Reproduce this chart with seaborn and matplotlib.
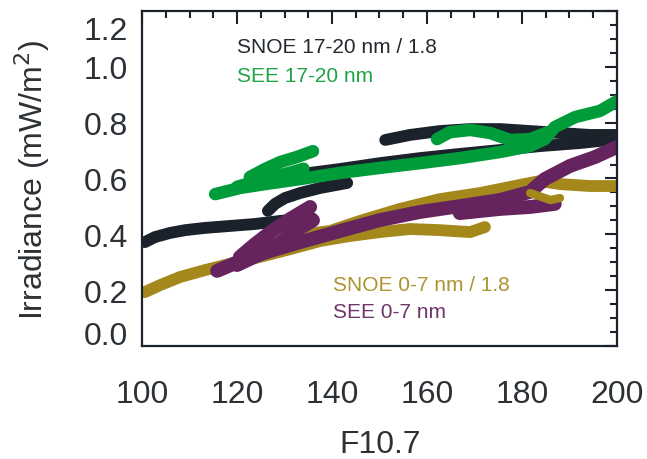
import matplotlib
matplotlib.use("Agg")
import matplotlib.pyplot as plt
import matplotlib.transforms as mtrans
from matplotlib.ticker import MultipleLocator
import seaborn as sns
import pandas as pd

# ---------------- data ----------------
# SNOE 17-20 nm / 1.8  (dark)
snoe1720_seg1_x = [100.6, 102.7, 105.9, 109.1, 113.3, 118.5, 123.8, 129.1, 135.8]
snoe1720_seg1_y = [0.372, 0.390, 0.405, 0.415, 0.423, 0.430, 0.437, 0.448, 0.458]
snoe1720_seg2_x = [126.5, 128.0, 130.1, 133.3, 137.5, 143.2]
snoe1720_seg2_y = [0.484, 0.509, 0.530, 0.548, 0.566, 0.584]
snoe1720_seg3_x = [132.2, 141.7, 150.1, 158.5, 166.9, 175.4, 183.8, 192.2, 200.0]
snoe1720_seg3_y = [0.613, 0.634, 0.655, 0.673, 0.688, 0.702, 0.716, 0.727, 0.741]
snoe1720_seg4_x = [151.2, 156.4, 162.7, 169.1, 175.4, 181.7, 188.0, 194.3, 200.0]
snoe1720_seg4_y = [0.738, 0.756, 0.770, 0.777, 0.777, 0.770, 0.763, 0.756, 0.756]

# SEE 17-20 nm (green)
see1720_seg1_x = [115.4, 120.6, 125.9, 133.3, 141.7, 150.1, 158.5, 166.9, 175.4, 181.7, 184.8,
                  186.9, 191.2, 196.4, 200.0]
see1720_seg1_y = [0.544, 0.566, 0.580, 0.598, 0.620, 0.638, 0.655, 0.673, 0.695, 0.716, 0.741,
                  0.784, 0.820, 0.842, 0.877]
see1720_seg2_x = [122.7, 125.9, 129.1, 132.6, 136.0]
see1720_seg2_y = [0.605, 0.634, 0.659, 0.677, 0.698]
see1720_seg3_x = [120.0, 126.0, 131.0, 134.0]
see1720_seg3_y = [0.570, 0.600, 0.620, 0.635]
see1720_seg4_x = [162.1, 164.8, 169.1, 173.3, 177.5, 181.7, 185.5]
see1720_seg4_y = [0.741, 0.766, 0.774, 0.763, 0.738, 0.741, 0.766]

# SNOE 0-7 nm / 1.8 (gold)
snoe07_seg1_x = [100.6, 103.8, 108.0, 113.3, 118.5, 124.8, 131.2, 137.5, 143.8, 150.1, 156.4,
                 162.7, 169.1, 172.2]
snoe07_seg1_y = [0.193, 0.218, 0.247, 0.272, 0.294, 0.319, 0.347, 0.376, 0.394, 0.408, 0.419,
                 0.415, 0.408, 0.426]
snoe07_seg2_x = [131.2, 139.6, 145.9, 154.3, 162.7, 171.2, 179.6, 183.8, 188.0, 194.3, 200.0]
snoe07_seg2_y = [0.394, 0.412, 0.448, 0.491, 0.526, 0.548, 0.577, 0.591, 0.580, 0.573, 0.573]
snoe07_seg3_x = [181.7, 186.0, 188.0]
snoe07_seg3_y = [0.548, 0.523, 0.530]

# SEE 0-7 nm (purple)
see07_seg1_x = [115.8, 120.6, 126.9, 133.3, 141.7, 150.1, 158.5, 166.9, 175.4, 181.7, 184.8,
                190.1, 195.4, 200.0]
see07_seg1_y = [0.269, 0.304, 0.340, 0.372, 0.412, 0.451, 0.480, 0.501, 0.523, 0.552, 0.598,
                0.645, 0.677, 0.713]
see07_seg2_x = [120.6, 123.8, 127.4, 131.2, 135.4]
see07_seg2_y = [0.319, 0.365, 0.412, 0.455, 0.498]
see07_seg3_x = [120.0, 125.0, 129.0, 133.0, 136.0]
see07_seg3_y = [0.290, 0.330, 0.370, 0.420, 0.450]
see07_seg4_x = [166.9, 175.4, 181.7, 186.9]
see07_seg4_y = [0.476, 0.491, 0.498, 0.509]

xticks = [100, 120, 140, 160, 180, 200]
yticks = [0.0, 0.2, 0.4, 0.6, 0.8, 1.0, 1.2]
xtick_labels = ["100", "120", "140", "160", "180", "200"]
ytick_labels = ["0.0", "0.2", "0.4", "0.6", "0.8", "1.0", "1.2"]

C_DARK = "#1b222b"
C_GREEN = "#009c3a"
C_GOLD = "#a4881c"
C_PURPLE = "#66245e"
C_TEXT = "#2c3136"


def frame(segs):
    rows = []
    for i, (xs, ys) in enumerate(segs):
        for x, y in zip(xs, ys):
            rows.append({"F107": x, "irr": y, "seg": i})
    return pd.DataFrame(rows)


sns.set_theme(style="white")
plt.rcParams["font.family"] = ["Liberation Sans", "DejaVu Sans"]

fig = plt.figure(figsize=(6.47, 4.60), dpi=100)
ax = fig.add_axes([0.2195, 0.2457, 0.7341, 0.7282])

line_kw = dict(estimator=None, sort=False, legend=False, ax=ax,
               solid_capstyle="round", solid_joinstyle="round")

sns.lineplot(data=frame([(snoe1720_seg1_x, snoe1720_seg1_y), (snoe1720_seg2_x, snoe1720_seg2_y),
                         (snoe1720_seg3_x, snoe1720_seg3_y), (snoe1720_seg4_x, snoe1720_seg4_y)]),
             x="F107", y="irr", units="seg", color=C_DARK, lw=8.5, **line_kw)
sns.lineplot(data=frame([(see1720_seg1_x, see1720_seg1_y), (see1720_seg2_x, see1720_seg2_y),
                         (see1720_seg3_x, see1720_seg3_y), (see1720_seg4_x, see1720_seg4_y)]),
             x="F107", y="irr", units="seg", color=C_GREEN, lw=9, **line_kw)
sns.lineplot(data=frame([(snoe07_seg1_x, snoe07_seg1_y), (snoe07_seg2_x, snoe07_seg2_y)]),
             x="F107", y="irr", units="seg", color=C_GOLD, lw=8.5, **line_kw)
sns.lineplot(data=frame([(see07_seg1_x, see07_seg1_y), (see07_seg2_x, see07_seg2_y),
                         (see07_seg3_x, see07_seg3_y), (see07_seg4_x, see07_seg4_y)]),
             x="F107", y="irr", units="seg", color=C_PURPLE, lw=10, **line_kw)
sns.lineplot(data=frame([(snoe07_seg3_x, snoe07_seg3_y)]),
             x="F107", y="irr", units="seg", color=C_GOLD, lw=6, **line_kw)

ax.set_xlim(100, 200)
ax.set_ylim(0, 1.2)
ax.set_xticks(xticks)
ax.set_xticklabels(xtick_labels)
ax.set_yticks(yticks)
ax.set_yticklabels(ytick_labels)
ax.xaxis.set_minor_locator(MultipleLocator(5))
ax.yaxis.set_minor_locator(MultipleLocator(0.05))
ax.tick_params(which="both", direction="in", top=True, right=True, color=C_DARK, width=1.5)
ax.tick_params(which="major", length=9)
ax.tick_params(which="minor", length=5)
ax.tick_params(axis="x", which="major", pad=24, labelsize=23, labelcolor=C_TEXT)
ax.tick_params(axis="y", which="major", pad=10, labelsize=23, labelcolor=C_TEXT)
for sp in ax.spines.values():
    sp.set_color(C_DARK)
    sp.set_linewidth(1.6)
    sp.set_visible(True)

# end labels of the y axis sit slightly inward, as in the reference
ymaj = ax.yaxis.get_major_ticks()
ymaj[0].label1.set_transform(ymaj[0].label1.get_transform()
                             + mtrans.ScaledTranslation(0, 10 / 72, fig.dpi_scale_trans))
ymaj[-1].label1.set_transform(ymaj[-1].label1.get_transform()
                              + mtrans.ScaledTranslation(0, -12 / 72, fig.dpi_scale_trans))

ax.set_xlabel("F10.7", fontsize=23, color=C_TEXT)
ax.xaxis.set_label_coords(0.501, -0.316)
ax.xaxis.label.set_va("baseline")
ax.set_ylabel("Irradiance (mW/m$^2$)", fontsize=23, color=C_TEXT)
ax.yaxis.set_label_coords(-0.2316, 0.5)
ax.yaxis.label.set_va("center")

ax.text(120.0, 1.053, "SNOE 17-20 nm / 1.8", color="#24292f", fontsize=15, va="baseline")
ax.text(120.0, 0.949, "SEE 17-20 nm", color="#1fa347", fontsize=15, va="baseline")
ax.text(140.2, 0.2006, "SNOE 0-7 nm / 1.8", color="#ad9430", fontsize=15, va="baseline")
ax.text(140.2, 0.104, "SEE 0-7 nm", color="#6f3568", fontsize=15, va="baseline")

fig.savefig("out.png", dpi=100, facecolor="white")
